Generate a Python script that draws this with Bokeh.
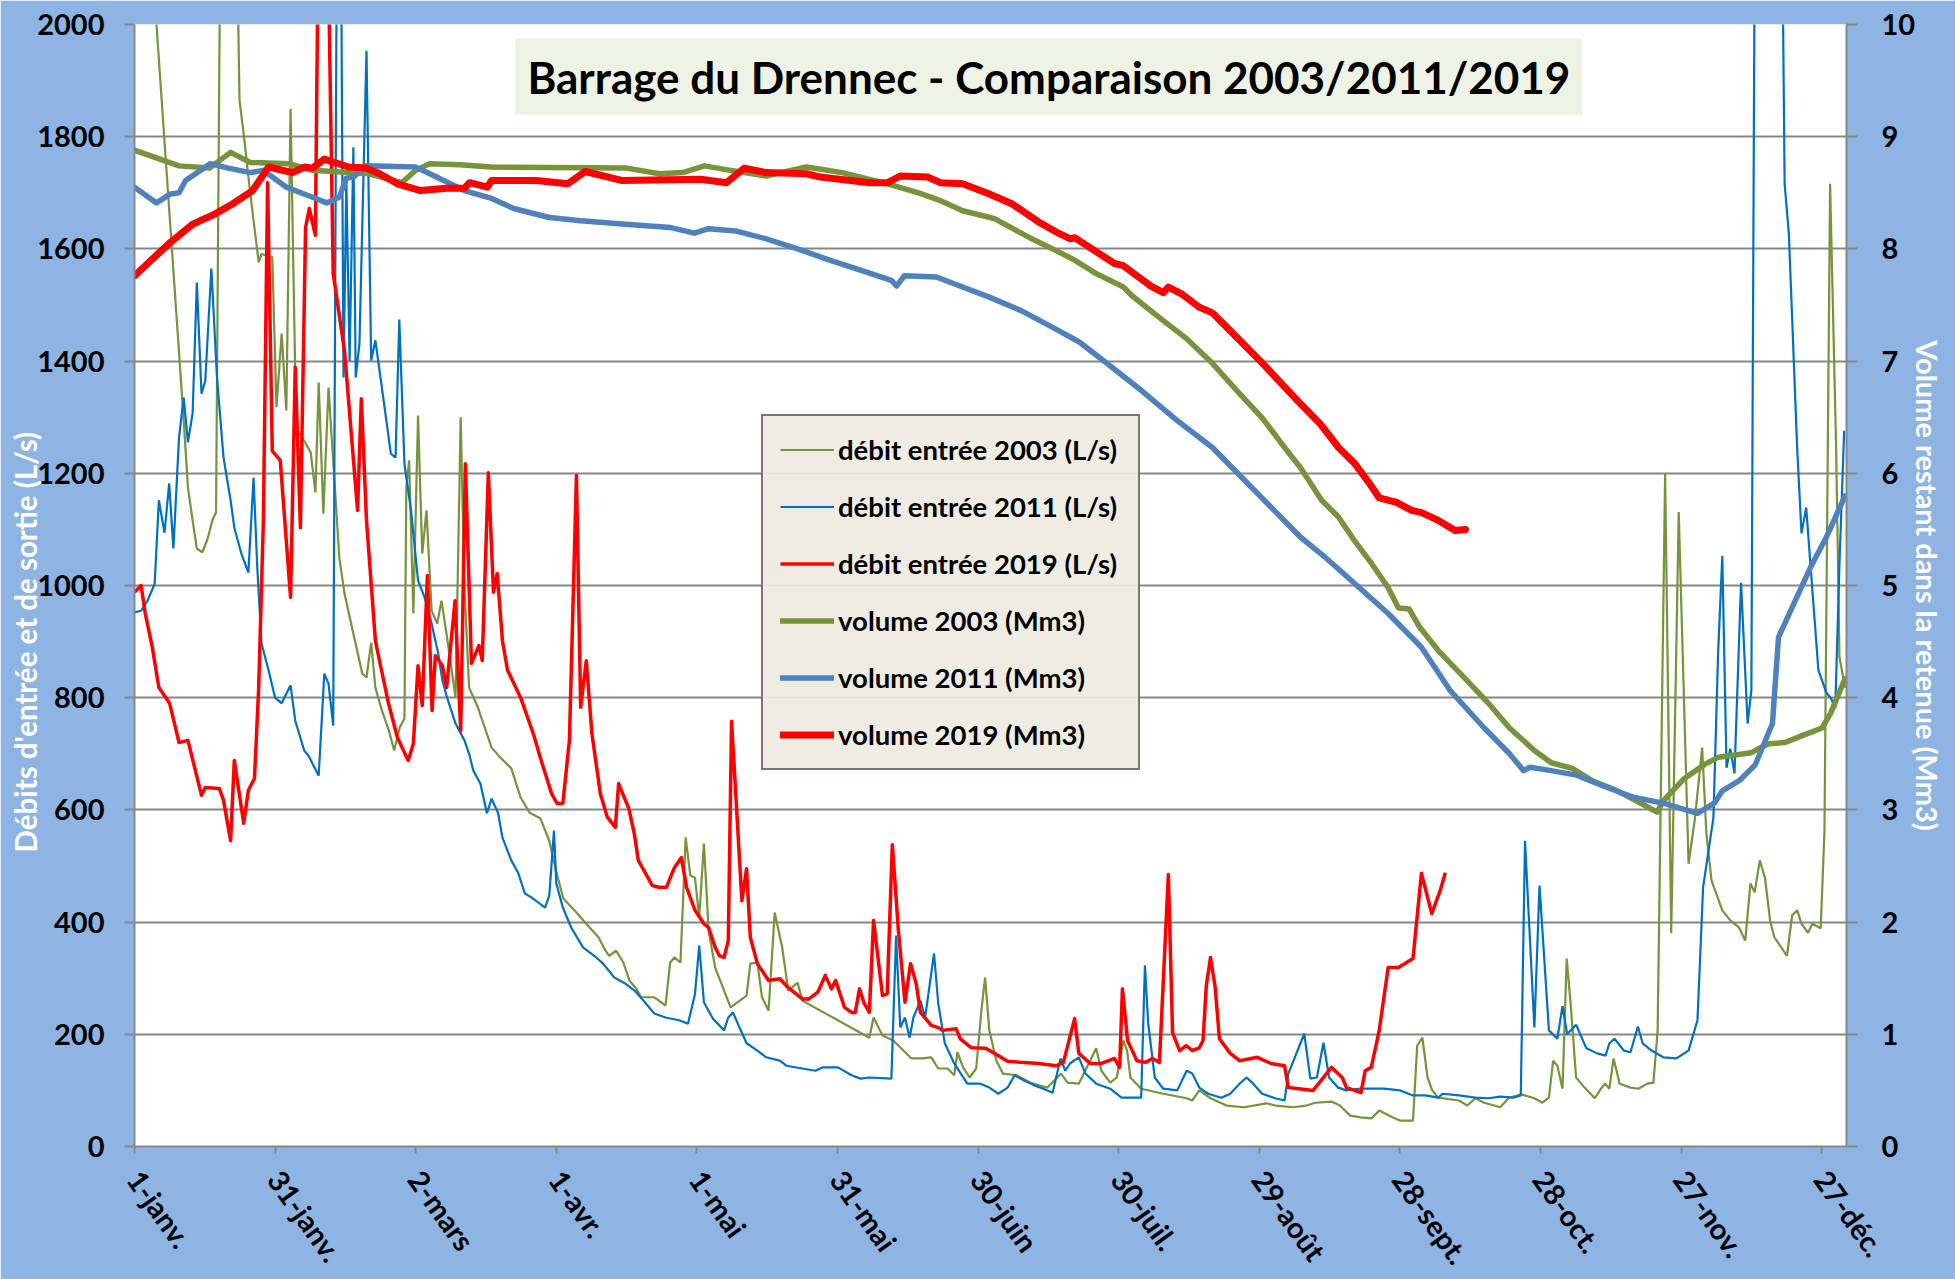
import math
from bokeh.plotting import figure
from bokeh.models import Range1d, LinearAxis, FixedTicker, Label, Legend, LegendItem, Title
from bokeh.embed import file_html
from bokeh.resources import INLINE

TITLE = "Barrage du Drennec - Comparaison 2003/2011/2019"
Y_LEFT_TITLE = "Débits d'entrée et de sortie (L/s)"
Y_RIGHT_TITLE = "Volume restant dans la retenue (Mm3)"
X_TICK_DAYS = [0, 30, 60, 90, 120, 150, 180, 210, 240, 270, 300, 330, 360]
X_TICK_LABELS = ["1-janv.", "31-janv.", "2-mars", "1-avr.", "1-mai", "31-mai", "30-juin",
                 "30-juil.", "29-août", "28-sept.", "28-oct.", "27-nov.", "27-déc."]
Y_LEFT_TICKS = [0, 200, 400, 600, 800, 1000, 1200, 1400, 1600, 1800, 2000]
Y_RIGHT_TICKS = [0, 1, 2, 3, 4, 5, 6, 7, 8, 9, 10]
SERIES_NAMES = ["débit entrée 2003 (L/s)", "débit entrée 2011 (L/s)", "débit entrée 2019 (L/s)",
                "volume 2003 (Mm3)", "volume 2011 (Mm3)", "volume 2019 (Mm3)"]

# (day of year from 1 Jan, inflow L/s)
debit_2003 = [
    (0, 2570), (10.5, 1294), (11.4, 1175), (12.4, 1116), (13.3, 1066), (14.5, 1059), (15.7, 1086),
    (16.6, 1116), (17.4, 1130), (18.6, 2500), (21.6, 2300), (22.4, 1865), (23.3, 1805), (24.7, 1699),
    (26.5, 1576), (27.1, 1591), (29.4, 1585), (30.3, 1318), (31.4, 1449), (32.4, 1312), (33.3, 1850),
    (34.5, 1280), (36.2, 1258), (37.6, 1237), (38.6, 1166), (39.3, 1362), (40.3, 1128), (41.4, 1353),
    (43.7, 1050), (44.8, 986), (46.7, 914), (48.6, 843), (49.5, 836), (50.5, 898), (51.4, 818),
    (52.8, 777), (54.3, 741), (55.4, 706), (56.6, 747), (57.6, 763), (58.0, 1175), (58.6, 1223),
    (59.5, 950), (60.5, 1303), (61.4, 1057), (62.3, 1134), (63.4, 955), (64.6, 932), (65.5, 973),
    (66.7, 907), (67.6, 854), (68.5, 800), (69.6, 1300), (70.4, 996), (71.4, 818), (73.3, 782),
    (76.2, 711), (78.1, 693), (80.4, 674), (82.4, 622), (84.3, 595), (86.6, 585), (88.5, 545),
    (90.0, 490), (91.5, 442), (94.3, 417), (96.2, 399), (99.0, 373), (100.5, 349), (101.3, 340),
    (102.8, 349), (104.3, 328), (105.6, 296), (107.1, 281), (108.1, 266), (110.9, 266), (111.9, 260),
    (113.3, 251), (114.3, 328), (115.2, 337), (116.5, 328), (117.6, 551), (118.6, 483), (119.6, 479),
    (120.5, 408), (121.5, 540), (122.5, 385), (123.9, 319), (127.2, 248), (130.6, 269), (131.4, 326),
    (132.9, 328), (133.9, 266), (135.3, 242), (136.6, 417), (138.2, 355), (139.5, 278), (141.5, 292),
    (142.5, 260), (156.8, 194), (157.7, 230), (159.6, 198), (161.9, 189), (165.8, 157), (168.1, 157),
    (170.0, 159), (171.5, 139), (173.5, 139), (174.9, 127), (175.6, 168), (176.8, 141), (178.2, 123),
    (179.6, 139), (180.7, 242), (181.5, 301), (182.4, 207), (183.9, 153), (185.3, 130), (188.2, 127),
    (191.1, 114), (192.9, 109), (194.8, 105), (197.7, 130), (199.1, 114), (201.5, 112), (203.9, 153),
    (205.2, 175), (206.3, 135), (208.2, 114), (209.6, 123), (211.0, 189), (211.8, 171), (212.5, 123),
    (214.8, 103), (219.5, 94), (224.5, 86), (225.7, 82), (227.2, 100), (229.6, 86), (233.0, 73),
    (236.8, 70), (241.5, 77), (243.4, 73), (247.3, 70), (250.0, 73), (252.0, 78), (255.4, 80),
    (257.2, 73), (259.4, 55), (261.7, 52), (263.9, 50), (265.6, 64), (268.4, 52), (270.1, 46),
    (272.8, 46), (273.7, 180), (274.8, 194), (275.9, 123), (276.9, 100), (278.2, 87), (282.6, 82),
    (284.4, 73), (286.1, 86), (288.0, 78), (291.4, 70), (293.3, 87), (295.9, 93), (298.7, 86),
    (300.4, 78), (301.8, 87), (302.7, 153), (303.6, 144), (304.7, 103), (305.6, 335), (306.5, 248),
    (307.6, 123), (309.4, 105), (311.6, 86), (312.9, 103), (313.8, 112), (314.7, 103), (315.6, 157),
    (316.9, 112), (319.2, 105), (320.9, 103), (322.8, 112), (324.1, 114), (325.0, 207), (326.6, 1200),
    (327.9, 380), (329.5, 1131), (331.6, 504), (332.9, 581), (334.5, 711), (335.4, 558), (336.5, 474),
    (338.8, 421), (340.5, 403), (342.4, 390), (343.7, 367), (344.8, 469), (345.7, 453), (346.8, 510),
    (347.9, 479), (349.0, 403), (349.9, 373), (352.6, 340), (353.7, 412), (354.8, 421), (355.7, 397),
    (357.1, 381), (358.0, 397), (359.8, 389), (360.6, 563), (361.8, 1716), (363.1, 1240), (363.8, 872),
    (365.0, 818),
]

debit_2011 = [
    (0, 952), (1.4, 955), (2.8, 973), (4.3, 1003), (5.2, 1152), (6.4, 1094), (7.4, 1182), (8.3, 1066),
    (9.5, 1264), (10.5, 1335), (11.4, 1255), (12.4, 1307), (13.3, 1540), (14.3, 1342), (15.1, 1365),
    (16.4, 1565), (17.6, 1371), (19.0, 1228), (20.5, 1152), (21.3, 1103), (22.8, 1057), (24.3, 1023),
    (25.4, 1192), (26.2, 1032), (27.1, 897), (28.6, 849), (30.0, 800), (31.4, 790), (33.3, 822),
    (34.3, 759), (36.2, 706), (37.1, 697), (39.3, 661), (40.5, 843), (41.4, 825), (42.4, 750),
    (43.3, 2400), (43.9, 2400), (44.6, 1371), (45.2, 1722), (45.9, 1400), (46.7, 1781), (47.2, 1371),
    (48.0, 1431), (49.5, 1953), (50.5, 1401), (51.4, 1437), (53.3, 1321), (54.7, 1235), (55.7, 1228),
    (56.5, 1474), (57.6, 1217), (59.0, 1134), (60.5, 1009), (61.9, 979), (63.4, 932), (64.8, 879),
    (65.7, 831), (66.7, 800), (68.5, 754), (70.4, 724), (71.4, 700), (72.3, 670), (73.8, 647),
    (75.2, 594), (76.2, 620), (77.6, 594), (78.5, 551), (80.4, 510), (81.9, 487), (83.3, 451),
    (84.7, 444), (87.6, 426), (88.5, 447), (89.5, 563), (90.0, 469), (91.4, 426), (93.2, 390),
    (95.7, 355), (98.1, 340), (100.0, 326), (102.4, 301), (104.8, 290), (106.7, 278), (108.6, 260),
    (110.9, 237), (113.3, 230), (116.2, 225), (118.1, 219), (119.6, 272), (120.5, 358), (121.5, 257),
    (123.4, 228), (125.8, 207), (126.7, 230), (127.7, 239), (129.1, 212), (130.6, 184), (132.9, 171),
    (134.8, 159), (137.7, 153), (139.1, 144), (142.5, 139), (145.3, 135), (146.8, 141), (150.1, 141),
    (153.0, 127), (154.9, 121), (156.8, 123), (161.5, 121), (162.5, 376), (163.4, 212), (164.4, 230),
    (165.4, 194), (166.2, 230), (167.7, 260), (168.7, 230), (170.6, 344), (171.5, 255), (172.9, 184),
    (174.9, 148), (177.7, 112), (180.5, 112), (182.4, 105), (184.3, 94), (186.3, 105), (187.8, 127),
    (189.7, 118), (192.0, 109), (193.9, 103), (195.9, 96), (197.6, 157), (198.6, 135), (199.6, 148),
    (201.5, 159), (202.9, 130), (205.2, 112), (208.2, 103), (210.6, 87), (214.8, 87), (215.6, 323),
    (216.3, 219), (217.7, 123), (219.5, 103), (222.5, 100), (224.5, 135), (225.7, 130), (227.2, 105),
    (229.1, 94), (231.9, 87), (233.8, 94), (235.8, 112), (237.3, 123), (238.7, 112), (240.6, 94),
    (243.4, 86), (245.4, 82), (246.2, 130), (249.6, 201), (250.9, 121), (252.3, 123), (253.7, 185),
    (254.9, 123), (256.8, 105), (258.6, 100), (261.3, 103), (266.6, 103), (270.1, 100), (272.8, 91),
    (275.4, 91), (278.2, 87), (279.1, 94), (282.6, 91), (286.1, 87), (288.9, 86), (291.4, 89),
    (294.2, 87), (295.8, 91), (296.7, 545), (298.7, 212), (299.8, 465), (301.8, 207), (303.6, 192),
    (304.7, 250), (305.7, 200), (307.6, 217), (309.8, 175), (312.1, 166), (313.9, 162), (314.7, 184),
    (315.8, 192), (317.8, 171), (319.2, 168), (320.8, 214), (321.8, 184), (323.7, 171), (326.2, 159),
    (329.0, 157), (331.6, 171), (333.5, 225), (334.7, 462), (336.9, 586), (337.9, 879), (338.8, 1053),
    (339.7, 675), (340.5, 709), (341.4, 665), (342.8, 1005), (344.2, 754), (345.0, 813), (345.9, 2500),
    (351.2, 2500), (352.1, 1716), (353.0, 1627), (354.8, 1240), (355.7, 1093), (356.7, 1139),
    (359.3, 849), (361.0, 809), (362.0, 799), (362.9, 781), (363.8, 1039), (364.8, 1276),
]

debit_2019 = [
    (0, 988), (1.4, 1000), (2.3, 950), (3.8, 890), (5.2, 818), (7.5, 790), (9.5, 720), (11.4, 724),
    (14.3, 626), (15.1, 640), (18.1, 638), (19.0, 617), (20.5, 545), (21.3, 688), (23.3, 576),
    (24.3, 635), (25.6, 656), (26.5, 818), (27.5, 1116), (28.4, 1718), (29.4, 1240), (31.1, 1223),
    (33.3, 979), (34.3, 1389), (35.4, 1103), (36.5, 1638), (37.3, 1672), (38.6, 1624), (39.5, 2400),
    (40.8, 2400), (42.4, 1556), (44.8, 1419), (47.6, 1134), (48.4, 1333), (49.5, 1116), (51.4, 902),
    (52.4, 861), (54.2, 790), (56.1, 729), (58.4, 688), (59.5, 718), (60.5, 857), (61.4, 786),
    (62.5, 1018), (63.5, 777), (64.2, 875), (65.7, 857), (66.6, 818), (68.4, 973), (69.6, 741),
    (70.6, 1217), (71.9, 861), (73.5, 893), (74.2, 866), (75.5, 1201), (76.6, 988), (77.4, 1021),
    (78.5, 902), (79.6, 849), (82.4, 800), (85.2, 733), (86.6, 693), (89.0, 629), (90.2, 611),
    (91.4, 612), (92.8, 724), (94.3, 1196), (95.2, 783), (96.4, 866), (97.6, 736), (99.4, 629),
    (100.9, 587), (102.6, 569), (103.3, 647), (104.6, 620), (105.5, 602), (106.7, 555), (107.5, 510),
    (110.5, 465), (111.9, 462), (113.5, 462), (115.2, 497), (116.7, 515), (117.8, 462), (119.6, 421),
    (121.5, 397), (122.5, 390), (123.9, 355), (124.8, 340), (125.8, 337), (126.7, 367), (127.4, 758),
    (129.6, 438), (130.6, 495), (131.4, 373), (132.9, 326), (135.3, 296), (137.7, 299), (139.5, 283),
    (142.5, 263), (143.9, 263), (145.8, 275), (147.4, 305), (148.7, 281), (149.6, 296), (151.5, 248),
    (153.0, 239), (153.8, 239), (154.7, 281), (155.7, 255), (156.8, 239), (157.7, 403), (159.6, 269),
    (160.6, 272), (161.7, 538), (163.0, 385), (164.4, 257), (165.6, 326), (166.8, 290), (167.7, 239),
    (170.0, 216), (171.5, 212), (172.4, 207), (175.3, 210), (176.2, 192), (178.6, 176), (181.6, 175),
    (183.5, 166), (186.3, 152), (189.1, 150), (192.9, 148), (196.7, 144), (198.2, 150), (200.6, 228),
    (201.5, 166), (203.9, 148), (206.3, 148), (209.1, 157), (210.2, 141), (210.8, 281), (211.9, 189),
    (213.9, 153), (215.8, 150), (217.2, 157), (218.7, 150), (220.6, 485), (221.5, 203), (223.0, 171),
    (224.4, 180), (225.7, 171), (227.2, 176), (228.0, 189), (228.7, 287), (229.6, 337), (230.6, 283),
    (231.5, 192), (233.8, 166), (235.8, 153), (239.6, 159), (242.5, 148), (245.4, 144), (246.2, 105),
    (251.5, 100), (255.4, 141), (257.7, 123), (258.6, 105), (261.7, 96), (262.6, 135), (263.9, 141),
    (265.6, 207), (267.5, 319), (269.7, 319), (272.8, 335), (274.6, 487), (276.8, 415), (278.6, 456),
    (279.7, 488),
]

# (day of year, remaining volume Mm3)
volume_2003 = [
    (0, 8.88), (9.5, 8.74), (16, 8.72), (20.5, 8.86), (24.7, 8.77), (33, 8.76), (38, 8.70), (50, 8.67),
    (57, 8.59), (60, 8.70), (63, 8.76), (69.5, 8.75), (76, 8.73), (105, 8.72), (112, 8.67), (117, 8.68),
    (121.6, 8.74), (127.2, 8.70), (134.8, 8.65), (143.4, 8.73), (151, 8.68), (160.7, 8.58), (167.3, 8.50),
    (172, 8.43), (176.7, 8.34), (183.5, 8.27), (191, 8.10), (195.9, 8.00), (200.6, 7.90), (205.2, 7.78),
    (211, 7.66), (212.9, 7.58), (219.5, 7.36), (224.5, 7.20), (230, 6.98), (235.8, 6.71), (240.7, 6.49),
    (245.4, 6.23), (248.8, 6.05), (253.3, 5.76), (256.9, 5.61), (260.3, 5.40), (263.9, 5.20),
    (267.5, 4.98), (269.7, 4.80), (272, 4.79), (274.2, 4.63), (278.2, 4.42), (284.4, 4.15),
    (288.9, 3.95), (293.4, 3.73), (298.7, 3.53), (302.3, 3.42), (306.8, 3.37), (311.1, 3.26),
    (316.4, 3.17), (320.9, 3.07), (324.9, 2.98), (326.2, 3.08), (330.7, 3.28), (335.2, 3.41),
    (338, 3.47), (345, 3.51), (348.6, 3.59), (352.2, 3.60), (355.7, 3.66), (360.1, 3.73),
    (361.9, 3.86), (365, 4.17),
]

volume_2011 = [
    (0, 8.55), (4.7, 8.41), (7.7, 8.49), (9.5, 8.50), (10.9, 8.61), (16.2, 8.76), (20, 8.72),
    (24.7, 8.68), (27.5, 8.70), (32.4, 8.55), (38, 8.46), (41, 8.41), (43.7, 8.46), (45.2, 8.63),
    (46.7, 8.64), (49.5, 8.74), (60, 8.73), (63, 8.67), (70.4, 8.52), (76.2, 8.45), (80.9, 8.36),
    (88.5, 8.28), (95.2, 8.25), (104.8, 8.22), (114.4, 8.19), (119.5, 8.14), (122.5, 8.18),
    (128.2, 8.16), (134.8, 8.09), (141.5, 8.00), (148.3, 7.90), (154.9, 7.81), (161.5, 7.72),
    (162.6, 7.67), (164.3, 7.76), (171.1, 7.75), (176.7, 7.66), (182.4, 7.57), (189.2, 7.45),
    (195.9, 7.30), (201.6, 7.17), (207.2, 6.99), (214.8, 6.74), (222.5, 6.47), (230, 6.23),
    (248.8, 5.43), (254.1, 5.25), (260.3, 5.02), (267.5, 4.75), (274.6, 4.45), (280.8, 4.06),
    (288, 3.73), (293.4, 3.50), (296.4, 3.35), (297.8, 3.38), (302.3, 3.35), (307.7, 3.31),
    (313, 3.22), (320, 3.11), (326.2, 3.06), (333.5, 2.97), (337.1, 3.06), (338.8, 3.17),
    (342.4, 3.26), (345.8, 3.40), (349.5, 3.77), (350.8, 4.54), (353.1, 4.75), (357.6, 5.16),
    (361, 5.43), (365, 5.80),
]

volume_2019 = [
    (0, 7.76), (2.8, 7.87), (7.7, 8.06), (12.4, 8.22), (17.1, 8.31), (20.9, 8.40), (25.2, 8.52),
    (28.6, 8.73), (33.7, 8.68), (36.3, 8.73), (38, 8.72), (40.5, 8.80), (45.7, 8.73), (49.5, 8.72),
    (52.3, 8.67), (56.1, 8.58), (61, 8.52), (66.6, 8.54), (70.4, 8.54), (71.5, 8.59), (75.3, 8.55),
    (76.2, 8.61), (85.8, 8.61), (92.4, 8.58), (96.2, 8.69), (103.9, 8.61), (120.8, 8.62),
    (126.3, 8.59), (130.1, 8.72), (134.8, 8.68), (143.4, 8.67), (146.4, 8.64), (156.8, 8.59),
    (160.7, 8.59), (163.4, 8.65), (169.2, 8.64), (172, 8.59), (176.7, 8.58), (182.4, 8.49),
    (187.3, 8.40), (192.9, 8.24), (196.7, 8.15), (199.7, 8.09), (200.6, 8.10), (209.1, 7.87),
    (211, 7.85), (216.8, 7.67), (219.5, 7.61), (220.6, 7.66), (223.4, 7.60), (227.2, 7.48),
    (230, 7.43), (233.8, 7.27), (240.7, 6.98), (248.1, 6.65), (253, 6.44), (256.9, 6.23),
    (260.3, 6.09), (263.5, 5.91), (265.6, 5.78), (269.3, 5.74), (272.5, 5.67), (274.6, 5.65),
    (278.2, 5.58), (281.8, 5.49), (284, 5.50),
]


def days(series):
    return [d for d, _ in series]


def vals(series):
    return [v for _, v in series]


FONT = "Lato"
BG = "#8DB4E2"
GRID = "#878787"
GREEN = "#77933C"
BLUE = "#0070C0"
RED = "#FF0000"
BLUE_VOL = "#4F81BD"

p = figure(frame_width=1712, frame_height=1122,
           x_range=Range1d(0, 365.3), y_range=Range1d(0, 2000),
           output_backend="svg", toolbar_location=None,
           min_border_left=134, min_border_right=109, min_border_top=24, min_border_bottom=133)
p.border_fill_color = BG
p.background_fill_color = "white"
p.outline_line_color = None
p.extra_y_ranges = {"vol": Range1d(0, 10)}

right_axis = LinearAxis(y_range_name="vol", ticker=FixedTicker(ticks=Y_RIGHT_TICKS))
p.add_layout(right_axis, "right")

left_axis = p.left[0]
left_axis.ticker = FixedTicker(ticks=Y_LEFT_TICKS)
bottom_axis = p.below[0]
bottom_axis.ticker = FixedTicker(ticks=X_TICK_DAYS)
bottom_axis.major_label_overrides = {d: lab for d, lab in zip(X_TICK_DAYS, X_TICK_LABELS)}
bottom_axis.major_label_orientation = -0.95

for ax in (left_axis, right_axis, bottom_axis):
    ax.axis_line_color = GRID
    ax.axis_line_width = 2
    ax.major_tick_line_color = GRID
    ax.major_tick_line_width = 2
    ax.major_tick_in = 0
    ax.minor_tick_line_color = None
    ax.major_label_text_font = FONT
    ax.major_label_text_font_style = "bold"
    ax.major_label_text_font_size = "29px"
    ax.major_label_text_color = "black"
left_axis.major_tick_out = 10
left_axis.major_label_standoff = 20
right_axis.major_tick_out = 11
right_axis.major_label_standoff = 24
bottom_axis.major_tick_out = 7
bottom_axis.major_label_standoff = 20

right_axis.axis_label = Y_RIGHT_TITLE
right_axis.axis_label_standoff = -8
right_axis.axis_label_text_font = FONT
right_axis.axis_label_text_font_style = "bold"
right_axis.axis_label_text_font_size = "29px"
right_axis.axis_label_text_color = "white"

left_title = Title(text=Y_LEFT_TITLE, align="left", offset=294, standoff=-17,
                   text_font=FONT, text_font_style="bold", text_font_size="29.5px",
                   text_color="white")
p.add_layout(left_title, "left")

p.xgrid.visible = False
p.ygrid.grid_line_color = GRID
p.ygrid.grid_line_width = 2
p.ygrid.ticker = FixedTicker(ticks=Y_LEFT_TICKS)

r1 = p.line(days(debit_2003), vals(debit_2003), line_color=GREEN, line_width=2.2)
r2 = p.line(days(debit_2011), vals(debit_2011), line_color=BLUE, line_width=2.2)
r3 = p.line(days(debit_2019), vals(debit_2019), line_color=RED, line_width=3.5, line_join="round")
r4 = p.line(days(volume_2003), vals(volume_2003), y_range_name="vol", line_color=GREEN,
            line_width=5.5, line_join="round", line_cap="round")
r5 = p.line(days(volume_2011), vals(volume_2011), y_range_name="vol", line_color=BLUE_VOL,
            line_width=5.5, line_join="round", line_cap="round")
r6 = p.line(days(volume_2019), vals(volume_2019), y_range_name="vol", line_color=RED,
            line_width=7, line_join="round", line_cap="round")

legend = Legend(items=[LegendItem(label=n, renderers=[r]) for n, r in
                       zip(SERIES_NAMES, [r1, r2, r3, r4, r5, r6])],
                location=(627, 376))
legend.border_line_color = "black"
legend.border_line_width = 2
legend.background_fill_color = "#EEECE1"
legend.background_fill_alpha = 0.92
legend.label_text_font = FONT
legend.label_text_font_style = "bold"
legend.label_text_font_size = "27.5px"
legend.label_text_color = "black"
legend.glyph_width = 54
legend.glyph_height = 33
legend.label_height = 33
legend.label_width = 283
legend.label_standoff = 4
legend.spacing = 24
legend.padding = 17
legend.margin = 0
p.add_layout(legend)

title = Label(x=195.1, y=1907, text=TITLE, text_align="center", text_baseline="middle",
              text_font=FONT, text_font_style="bold", text_font_size="44px", text_color="black",
              background_fill_color="#EFF3E6", padding=12)
p.add_layout(title)

open("out.html", "w").write(file_html(p, INLINE))
